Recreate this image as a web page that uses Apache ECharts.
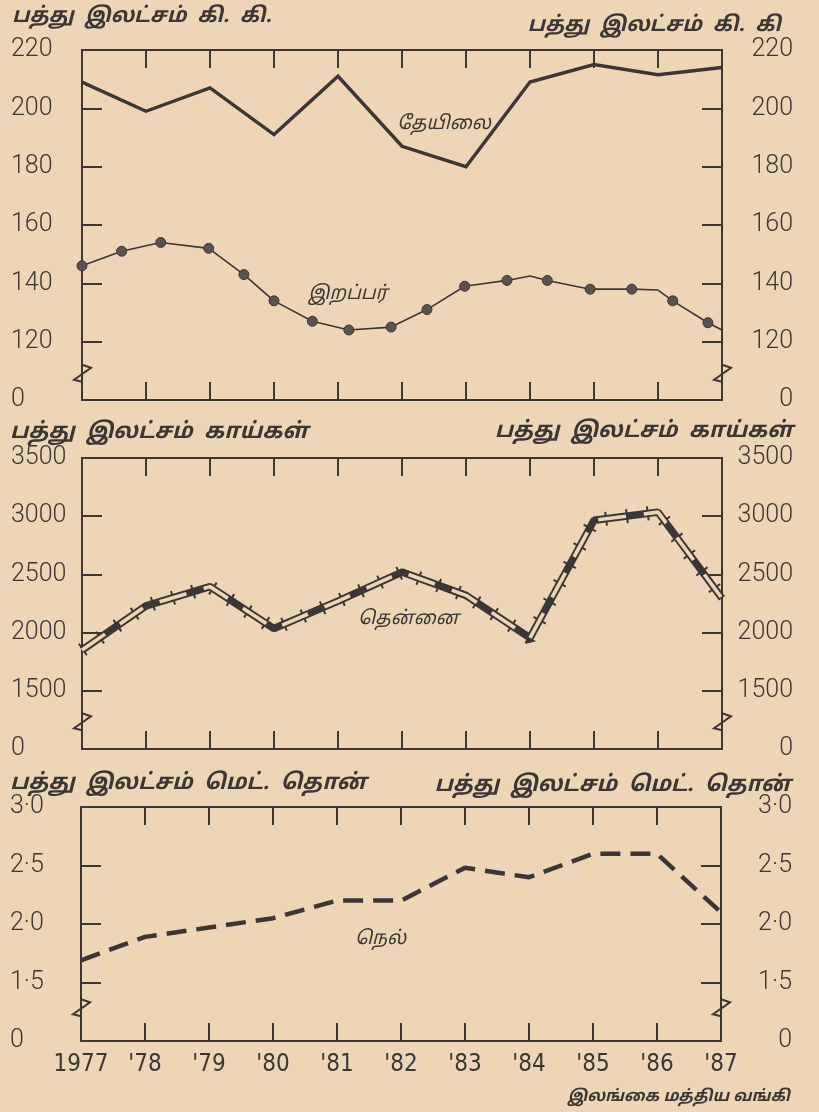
<!DOCTYPE html>
<html>
<head>
<meta charset="utf-8">
<script src="https://cdn.jsdelivr.net/npm/echarts@6/dist/echarts.min.js"></script>
<style>
  html, body { margin: 0; padding: 0; background: #edd5b8; }
  #main { width: 819px; height: 1112px; }
</style>
</head>
<body>
<div id="main"></div>
<script>
// years on the x axis
var years = [1977, 1978, 1979, 1980, 1981, 1982, 1983, 1984, 1985, 1986, 1987];
var yearLabels = ['1977', "'78", "'79", "'80", "'81", "'82", "'83", "'84", "'85", "'86", "'87"];

// tea (தேயிலை), million kg
var teaValues = [209, 199, 207, 191, 211, 187, 180, 209, 215, 211.5, 214];

// rubber (இறப்பர்), million kg
var rubberYears  = [1977, 1977.62, 1978.23, 1978.98, 1979.53, 1980.0, 1980.6, 1981.17, 1981.83, 1982.39, 1982.98, 1983.64, 1984.0, 1984.27, 1984.94, 1985.59, 1986.0, 1986.23, 1986.78, 1987];
var rubberValues = [146, 151, 154, 152, 143, 134, 127, 124, 125, 131, 139, 141, 142.5, 141, 138, 138, 137.7, 134, 126.5, 124];
var rubberDots   = [1, 1, 1, 1, 1, 1, 1, 1, 1, 1, 1, 1, 0, 1, 1, 1, 0, 1, 1, 0];

// coconut (தென்னை), million nuts
var coconutValues = [1850, 2230, 2395, 2035, 2270, 2520, 2320, 1955, 2965, 3035, 2295];

// paddy (நெல்), million metric tons
var paddyValues = [1.69, 1.89, 1.97, 2.05, 2.2, 2.2, 2.48, 2.4, 2.6, 2.6, 2.1];

// y tick ranges (lowest tick drawn as 0 after the axis break)
var teaTicks = [100, 220, 20];
var coconutTicks = [1000, 3500, 500];
var paddyTicks = [1, 3, 0.5];

var ink = '#3b3734';
var paper = '#edd5b8';
var tamilFont = "'Noto Sans Tamil', 'Latha', 'Noto Sans', sans-serif";

var chart = echarts.init(document.getElementById('main'));

// tiny extend helper
function extend() {
  var out = {};
  for (var i = 0; i < arguments.length; i++) {
    for (var k in arguments[i]) out[k] = arguments[i][k];
  }
  return out;
}

function pairs(xs, ys) {
  return xs.map(function(x, i) { return [x, ys[i]]; });
}

function xAxes(gridIndex, showLabels) {
  var base = {
    gridIndex: gridIndex,
    type: 'value',
    min: 1977, max: 1987, interval: 1,
    splitLine: { show: false },
    axisLine: { show: true, lineStyle: { color: ink, width: 2 } },
    axisTick: { show: true, inside: true, length: 18, lineStyle: { color: ink, width: 2 } }
  };
  return [
    extend(base, {
      position: 'bottom',
      axisLabel: {
        show: showLabels, margin: 12, color: ink, fontSize: 24,
        fontFamily: "'Liberation Sans Narrow', 'DejaVu Sans Condensed', Roboto, sans-serif",
        formatter: function(v) { return yearLabels[years.indexOf(v)] || ''; }
      }
    }),
    extend(base, { position: 'top', axisLabel: { show: false } })
  ];
}

function yAxes(gridIndex, ticks, fmt) {
  var base = {
    gridIndex: gridIndex,
    type: 'value',
    min: ticks[0], max: ticks[1], interval: ticks[2],
    splitLine: { show: false },
    axisLine: { show: true, lineStyle: { color: ink, width: 2 } },
    axisTick: { show: true, inside: true, length: 20, lineStyle: { color: ink, width: 2 } }
  };
  var label = { color: ink, fontSize: 25, fontWeight: 300, fontFamily: 'Roboto, sans-serif', formatter: fmt };
  return [
    extend(base, { position: 'left', axisLabel: extend(label, { align: 'left', margin: 71 }) }),
    extend(base, { position: 'right', axisLabel: extend(label, { align: 'right', margin: 71 }) })
  ];
}

var grids = [
  { left: 82, top: 50, width: 640, height: 350 },
  { left: 82, top: 458, width: 640, height: 291 },
  { left: 81, top: 807, width: 640, height: 234 }
];

var option = {
  backgroundColor: paper,
  animation: false,
  grid: grids,
  xAxis: [].concat(xAxes(0, false), xAxes(1, false), xAxes(2, true)),
  yAxis: [].concat(
    yAxes(0, teaTicks, function(v) { return v === teaTicks[0] ? '0' : v; }),
    yAxes(1, coconutTicks, function(v) { return v === coconutTicks[0] ? '0' : v; }),
    yAxes(2, paddyTicks, function(v) { return v === paddyTicks[0] ? '0' : v.toFixed(1).replace('.', '·'); })
  ),
  series: [
    {
      name: 'தேயிலை', type: 'line', xAxisIndex: 0, yAxisIndex: 0,
      data: pairs(years, teaValues),
      symbol: 'none',
      lineStyle: { color: ink, width: 3.4, join: 'miter' }
    },
    {
      name: 'இறப்பர்', type: 'line', xAxisIndex: 0, yAxisIndex: 0,
      data: pairs(rubberYears, rubberValues).map(function(p, i) {
        return { value: p, symbol: rubberDots[i] ? 'circle' : 'none' };
      }),
      symbolSize: 10,
      itemStyle: { color: '#58534f', borderColor: '#3b3734', borderWidth: 1 },
      lineStyle: { color: ink, width: 1.6 }
    },
    // coconut: cross ticks, dark band, light core
    {
      type: 'line', xAxisIndex: 2, yAxisIndex: 2,
      data: pairs(years, coconutValues),
      symbol: 'none',
      lineStyle: { color: ink, width: 14, type: [2, 19], cap: 'butt' }
    },
    {
      type: 'line', xAxisIndex: 2, yAxisIndex: 2,
      data: pairs(years, coconutValues),
      symbol: 'none',
      lineStyle: { color: ink, width: 7.5 }
    },
    {
      name: 'தென்னை', type: 'line', xAxisIndex: 2, yAxisIndex: 2,
      data: pairs(years, coconutValues),
      symbol: 'none',
      lineStyle: { color: paper, width: 3.6, type: [28, 18], cap: 'butt' }
    },
    {
      name: 'நெல்', type: 'line', xAxisIndex: 4, yAxisIndex: 4,
      data: pairs(years, paddyValues),
      symbol: 'none',
      lineStyle: { color: ink, width: 4.5, type: [20, 10], cap: 'butt' }
    }
  ]
};
chart.setOption(option);

// texts and axis breaks
function unitText(x, y, text, align, size) {
  return {
    type: 'text', x: x, y: y,
    style: {
      text: text, fill: ink, align: align, verticalAlign: 'middle',
      font: 'italic bold ' + (size || 21) + 'px ' + tamilFont
    }
  };
}
function seriesText(x, y, text) {
  return {
    type: 'text', x: x, y: y,
    style: { text: text, fill: ink, align: 'left', verticalAlign: 'middle', font: 'italic 19px ' + tamilFont }
  };
}
function breakMark(xIdx, yIdx, v) {
  var out = [];
  [1977, 1987].forEach(function(yr) {
    var p = chart.convertToPixel({ xAxisIndex: xIdx, yAxisIndex: yIdx }, [yr, v]);
    out.push({
      type: 'line', shape: { x1: p[0], y1: p[1] - 8, x2: p[0], y2: p[1] + 7 },
      style: { stroke: paper, lineWidth: 4 }
    });
    out.push({
      type: 'polyline',
      shape: { points: [[p[0], p[1] - 9], [p[0] + 9, p[1] - 6], [p[0] - 8, p[1] + 6], [p[0], p[1] + 8]] },
      style: { stroke: ink, lineWidth: 2, fill: null }
    });
  });
  return out;
}

chart.setOption({
  graphic: [].concat(
    breakMark(0, 0, 109),
    breakMark(2, 2, 1230),
    breakMark(4, 4, 1.28),
    [
      unitText(12, 18, 'பத்து  இலட்சம்  கி.  கி.', 'left'),
      unitText(781, 27, 'பத்து  இலட்சம்  கி.  கி', 'right'),
      unitText(10, 434, 'பத்து  இலட்சம்  காய்கள்', 'left', 22),
      unitText(793, 433, 'பத்து  இலட்சம்  காய்கள்', 'right', 22),
      unitText(10, 785, 'பத்து  இலட்சம்  மெட்.  தொன்', 'left', 22),
      unitText(791, 787, 'பத்து  இலட்சம்  மெட்.  தொன்', 'right', 22),
      unitText(790, 1098, 'இலங்கை மத்திய வங்கி', 'right', 16),
      seriesText(397, 125, 'தேயிலை'),
      seriesText(308, 295, 'இறப்பர்'),
      seriesText(358, 620, 'தென்னை'),
      seriesText(355, 940, 'நெல்')
    ]
  )
});
</script>
</body>
</html>
